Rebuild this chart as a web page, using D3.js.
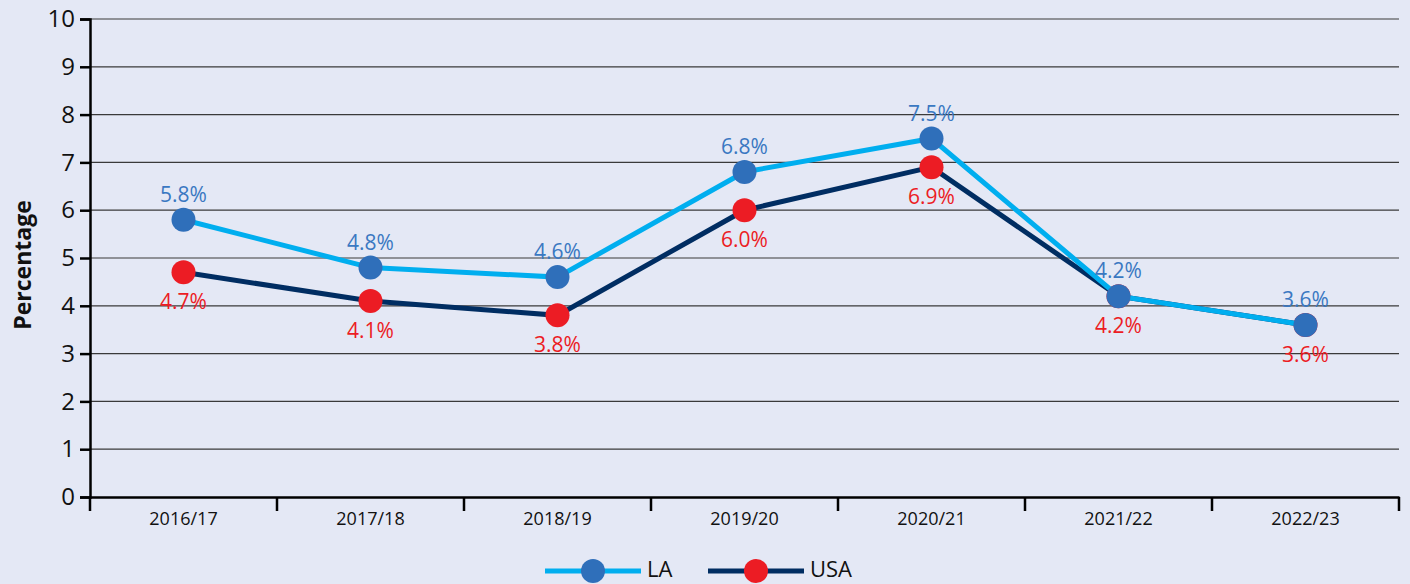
<!DOCTYPE html>
<html lang="en">
<head>
    <meta charset="utf-8">
    <title>LA vs USA</title>
    <script src="https://cdn.jsdelivr.net/npm/d3@7"></script>
    <style>
        body { margin: 0; background: #e4e8f5; }
        text { font-family: "Open Sans", "Noto Sans", sans-serif; }
    </style>
</head>
<body>
<script>
    var years = ["2016/17", "2017/18", "2018/19", "2019/20", "2020/21", "2021/22", "2022/23"];
    var laValues = [5.8, 4.8, 4.6, 6.8, 7.5, 4.2, 3.6];
    var usaValues = [4.7, 4.1, 3.8, 6.0, 6.9, 4.2, 3.6];
    var yTicks = [0, 1, 2, 3, 4, 5, 6, 7, 8, 9, 10];

    var width = 1410, height = 584;
    var margin = {top: 19, right: 11, bottom: 87, left: 90};

    var svg = d3.select("body").append("svg")
        .attr("width", width)
        .attr("height", height);

    svg.append("rect").attr("width", width).attr("height", height).attr("fill", "#e4e8f5");

    var x = d3.scaleBand().domain(years).range([margin.left, width - margin.right]);
    var y = d3.scaleLinear().domain([0, 10]).range([height - margin.bottom, margin.top]);

    // gridlines
    svg.append("g").selectAll("line")
        .data(yTicks.slice(1))
        .enter().append("line")
        .attr("x1", margin.left).attr("x2", width - margin.right)
        .attr("y1", function(d) { return y(d); })
        .attr("y2", function(d) { return y(d); })
        .attr("stroke", "#3a3a3a").attr("stroke-width", 1.2);

    // y axis
    var yAxis = svg.append("g")
        .attr("transform", "translate(" + margin.left + ",0)")
        .call(d3.axisLeft(y).tickValues(yTicks).tickSize(10).tickPadding(5));
    yAxis.select(".domain").attr("stroke", "#000").attr("stroke-width", 2.5);
    yAxis.selectAll(".tick line").attr("stroke", "#000").attr("stroke-width", 2.5);
    yAxis.selectAll("text").attr("font-size", 24).attr("fill", "#111");

    // x axis
    var xAxis = svg.append("g")
        .attr("transform", "translate(0," + y(0) + ")")
        .call(d3.axisBottom(x).tickSize(0).tickPadding(15));
    xAxis.select(".domain").attr("stroke", "#000").attr("stroke-width", 2.5);
    xAxis.selectAll("text").attr("font-size", 18).attr("fill", "#111");
    xAxis.selectAll("line.bound")
        .data(d3.range(years.length + 1))
        .enter().append("line")
        .attr("class", "bound")
        .attr("x1", function(i) { return margin.left + i * x.step(); })
        .attr("x2", function(i) { return margin.left + i * x.step(); })
        .attr("y1", 0).attr("y2", 14)
        .attr("stroke", "#000").attr("stroke-width", 2.5);

    svg.append("text")
        .attr("transform", "translate(31," + (y(5) + 7) + ") rotate(-90)")
        .attr("text-anchor", "middle")
        .attr("font-size", 23).attr("font-weight", "bold").attr("fill", "#111")
        .text("Percentage");

    var cx = function(d, i) { return x(years[i]) + x.bandwidth() / 2; };
    var line = d3.line().x(cx).y(function(d) { return y(d); });

    function drawSeries(vals, lineColor, dotColor) {
        svg.append("path").datum(vals)
            .attr("d", line).attr("fill", "none")
            .attr("stroke", lineColor).attr("stroke-width", 5);
        svg.append("g").selectAll("circle").data(vals).enter().append("circle")
            .attr("cx", cx).attr("cy", function(d) { return y(d); })
            .attr("r", 12).attr("fill", dotColor);
    }
    function drawLabels(vals, labelColor, labelDy) {
        svg.append("g").selectAll("text").data(vals).enter().append("text")
            .attr("x", cx).attr("y", function(d) { return y(d) + labelDy; })
            .attr("text-anchor", "middle")
            .attr("font-size", 21).attr("fill", labelColor)
            .text(function(d) { return d.toFixed(1) + "%"; });
    }

    drawSeries(usaValues, "#002d62", "#ec1c24");
    drawSeries(laValues, "#00aeef", "#2f6fba");
    drawLabels(laValues, "#3a78c2", -18);
    drawLabels(usaValues, "#ec1c24", 37);

    // legend
    var legend = svg.append("g").attr("transform", "translate(0,571)");
    var items = [
        {name: "LA", line: "#00aeef", dot: "#2f6fba", x0: 545},
        {name: "USA", line: "#002d62", dot: "#ec1c24", x0: 708}
    ];
    items.forEach(function(it) {
        legend.append("line").attr("x1", it.x0).attr("x2", it.x0 + 96)
            .attr("y1", 0).attr("y2", 0)
            .attr("stroke", it.line).attr("stroke-width", 5);
        legend.append("circle").attr("cx", it.x0 + 48).attr("cy", 0).attr("r", 12).attr("fill", it.dot);
        legend.append("text").attr("x", it.x0 + 102).attr("y", 6)
            .attr("font-size", 22).attr("fill", "#111").text(it.name);
    });
</script>
</body>
</html>
